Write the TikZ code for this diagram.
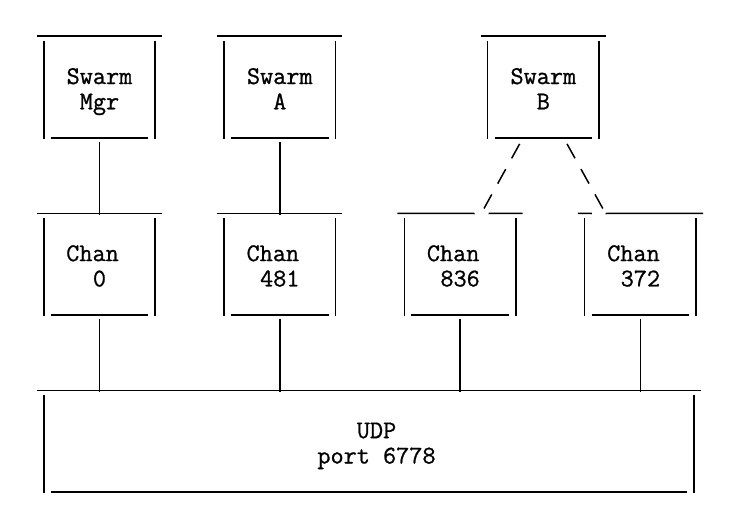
\documentclass[tikz,border=0pt]{standalone}
\usepackage{fontspec}
\setmonofont{Latin Modern Mono}[FakeBold=0.9]
\usetikzlibrary{calc}
\newcommand\boxtop[1]{\draw[ln] ([xshift=-6.93pt]#1.north west) -- ([xshift=6.93pt]#1.north east);}
\newcommand\boxsides[1]{%
  \draw[ln] ([yshift=-4.5pt]#1.north west) -- ([yshift=-1.2pt]#1.south west);
  \draw[ln] ([yshift=-4.5pt]#1.north east) -- ([yshift=-1.2pt]#1.south east);
  \draw[ln] ([xshift=6.93pt]#1.south west) -- ([xshift=-6.93pt]#1.south east);}
\begin{document}
\begin{tikzpicture}[x=1pt,y=-1pt,
  ln/.style={line width=1.5pt, line cap=butt, black},
  txt/.style={font=\ttfamily\fontsize{25.5}{27}\selectfont, inner sep=0pt, anchor=base},
  box/.style={draw=none, rectangle, inner sep=0pt, minimum width=110.96pt, minimum height=101.2pt},
  slashline/.style={ln, dash pattern=on 16.5pt off 12.35pt}
]
\useasboundingbox (0,0) rectangle (737,522);

% boxes
\node[box] (mgr) at (99.48,87) {};
\node[box] (swA) at (279.79,87) {};
\node[box] (swB) at (543.32,87) {};
\node[box] (c0)   at (99.48,264.1) {};
\node[box] (c481) at (279.79,264.1) {};
\node[box] (c836) at (460.1,264.1) {};
\node[box] (c372) at (640.41,264.1) {};
\node[box, minimum width=650pt] (udp) at (369,441.2) {};

% labels
\node[txt] (mgrT1) at (99.48,84) {Swarm};
\node[txt] (mgrT2) at (99.48,109.3) {Mgr};
\node[txt] (swAT1) at (279.79,84) {Swarm};
\node[txt] (swAT2) at (279.79,109.3) {A};
\node[txt] (swBT1) at (543.32,84) {Swarm};
\node[txt] (swBT2) at (543.32,109.3) {B};
\node[txt] (c0T1) at (92.55,261.1) {Chan};
\node[txt] (c0T2) at (99.48,286.4) {0};
\node[txt] (c481T1) at (272.86,261.1) {Chan};
\node[txt] (c481T2) at (279.79,286.4) {481};
\node[txt] (c836T1) at (453.17,261.1) {Chan};
\node[txt] (c836T2) at (460.1,286.4) {836};
\node[txt] (c372T1) at (633.48,261.1) {Chan};
\node[txt] (c372T2) at (640.41,286.4) {372};
\node[txt] (udpT1) at (376.5,438.2) {UDP};
\node[txt] (udpT2) at (376.5,463.5) {port 6778};

% outlines
\boxtop{mgr}\boxsides{mgr}
\boxtop{swA}\boxsides{swA}
\boxtop{swB}\boxsides{swB}
\boxtop{c0}\boxsides{c0}
\boxtop{c481}\boxsides{c481}
\draw[ln] ([xshift=-6.93pt]c836.north west) -- (474.66,213.5);
\draw[ln] (488.53,213.5) -- ([xshift=6.93pt]c836.north east);
\boxsides{c836}
\draw[ln] ([xshift=-6.93pt]c372.north west) -- (591.87,213.5);
\draw[ln] (605.74,213.5) -- ([xshift=6.93pt]c372.north east);
\boxsides{c372}
\boxtop{udp}\boxsides{udp}

% connectors
\draw[ln] ([yshift=-4.3pt]mgr.south) -- ([yshift=-1.5pt]c0.north);
\draw[ln] ([yshift=-4.3pt]swA.south) -- ([yshift=-1.5pt]c481.north);
\draw[slashline] ($(swB.south)+(-23.7,6.1)$) -- ($(c836.north)+(23.9,-4.8)$);
\draw[slashline] ($(swB.south)+(23.7,6.1)$) -- ($(c372.north)+(-37.6,-4.8)$);
\foreach \n in {c0,c481,c836,c372}{
  \draw[ln] ([yshift=-4.3pt]\n.south) -- ($(\n.south |- udp.north)+(0,1.5)$);
}
\end{tikzpicture}
\end{document}
